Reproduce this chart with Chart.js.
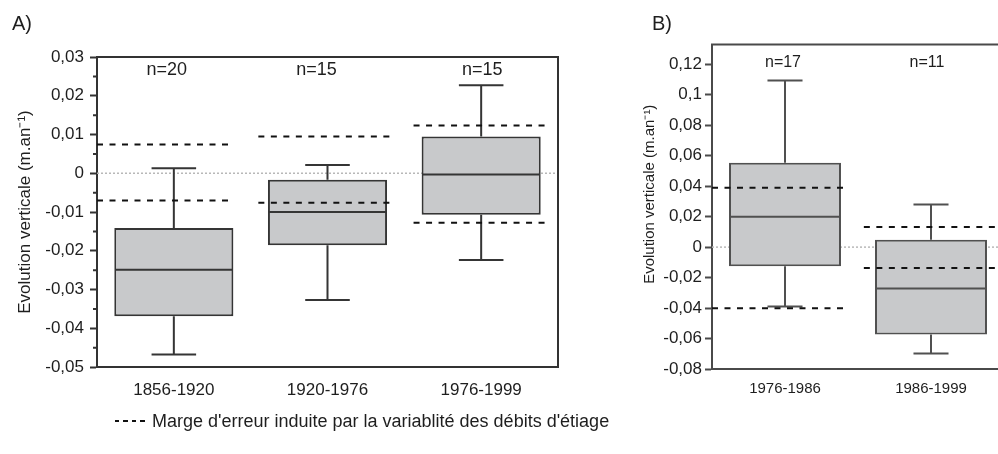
<!DOCTYPE html>
<html>
<head>
<meta charset="utf-8">
<script src="https://cdn.jsdelivr.net/npm/chart.js@4.4.1/dist/chart.umd.min.js"></script>
<style>
  html, body { margin: 0; padding: 0; background: #fff; overflow: hidden; }
  #wrap { position: relative; width: 998px; height: 454px; overflow: hidden;
          font-family: "Liberation Sans", Arial, sans-serif; color: #1e1e1e; }
  #boxA { position: absolute; left: 0; top: 0; width: 580px; height: 454px; }
  #boxB { position: absolute; left: 620px; top: 0; width: 390px; height: 454px; }
  .panel { position: absolute; top: 12px; font-size: 20px; line-height: 1.117; }
  #legend { position: absolute; left: 115px; top: 411px; font-size: 18px; line-height: 1.117; white-space: pre; }
  #legend .dash { display: inline-block; width: 30px; height: 2px; margin-right: 7px; vertical-align: 5px;
                  background: repeating-linear-gradient(90deg, #111 0 4.5px, transparent 4.5px 8.5px); }
</style>
</head>
<body>
<div id="wrap">
  <div id="boxA"><canvas id="chartA"></canvas></div>
  <div id="boxB"><canvas id="chartB"></canvas></div>
  <div class="panel" style="left:12px">A)</div>
  <div class="panel" style="left:652px">B)</div>
  <div id="legend"><span class="dash"></span>Marge d'erreur induite par la variablité des débits d'étiage</div>
</div>
<script>
// panel A
var catsA = ['1856-1920', '1920-1976', '1976-1999'];
var nA = [20, 15, 15];
var loA = [-0.0468, -0.0327, -0.0224];
var q1A = [-0.0369, -0.0186, -0.0107];
var medA = [-0.0249, -0.0100, -0.0003];
var q3A = [-0.0141, -0.0017, 0.0095];
var hiA = [0.0013, 0.0021, 0.0227];
var errLoA = [-0.0070, -0.0076, -0.0128];
var errHiA = [0.0074, 0.0095, 0.0123];
var ticksA = [-0.05, -0.04, -0.03, -0.02, -0.01, 0, 0.01, 0.02, 0.03];

// panel B
var catsB = ['1976-1986', '1986-1999'];
var nB = [17, 11];
var loB = [-0.0389, -0.0699];
var q1B = [-0.0126, -0.0573];
var medB = [0.0200, -0.0271];
var q3B = [0.0553, 0.0049];
var hiB = [0.1093, 0.0279];
var errLoB = [-0.0402, -0.0137];
var errHiB = [0.0389, 0.0132];
var ticksB = [-0.08, -0.06, -0.04, -0.02, 0, 0.02, 0.04, 0.06, 0.08, 0.1, 0.12];

Chart.defaults.font.family = '"Liberation Sans", Arial, sans-serif';
Chart.defaults.color = '#1e1e1e';

function fmt(v) {
    return (Math.round(v * 1000) / 1000).toString().replace('.', ',');
}

// whiskers, medians, error margins, n labels
function boxPlugin(d) {
    return {
        id: 'boxes',
        beforeDatasetsDraw: function (chart) {
            var ctx = chart.ctx, a = chart.chartArea;
            var y0 = chart.scales.y.getPixelForValue(0);
            ctx.save();
            ctx.strokeStyle = '#b8b8b8';
            ctx.lineWidth = 1.5;
            ctx.setLineDash([2, 2]);
            ctx.beginPath();
            ctx.moveTo(a.left, y0);
            ctx.lineTo(a.right, y0);
            ctx.stroke();
            ctx.restore();
        },
        afterDatasetsDraw: function (chart) {
            var ctx = chart.ctx, a = chart.chartArea;
            var xs = chart.scales.x, ys = chart.scales.y;
            var step = xs.getPixelForValue(1) - xs.getPixelForValue(0);
            var bars = chart.getDatasetMeta(0).data;
            ctx.save();
            ctx.beginPath();
            ctx.rect(a.left, a.top, a.right - a.left, a.bottom - a.top);
            ctx.clip();
            d.med.forEach(function (m, i) {
                var cx = xs.getPixelForValue(i);
                var half = bars[i].width / 2 - 1;
                var cap = d.cap * step / 2;
                var yHi = ys.getPixelForValue(d.hi[i]), yLo = ys.getPixelForValue(d.lo[i]);
                ctx.strokeStyle = d.color;
                ctx.lineWidth = d.width;
                ctx.setLineDash([]);
                ctx.beginPath();
                ctx.moveTo(cx, ys.getPixelForValue(d.q3[i]));
                ctx.lineTo(cx, yHi);
                ctx.moveTo(cx, ys.getPixelForValue(d.q1[i]));
                ctx.lineTo(cx, yLo);
                ctx.moveTo(cx - cap, yHi);
                ctx.lineTo(cx + cap, yHi);
                ctx.moveTo(cx - cap, yLo);
                ctx.lineTo(cx + cap, yLo);
                ctx.moveTo(cx - half, ys.getPixelForValue(m));
                ctx.lineTo(cx + half, ys.getPixelForValue(m));
                ctx.stroke();

                var x1 = cx + d.span[i][0] * step, x2 = cx + d.span[i][1] * step;
                ctx.strokeStyle = '#111';
                ctx.lineWidth = 2;
                ctx.setLineDash([6, 6.5]);
                ctx.beginPath();
                [d.errHi[i], d.errLo[i]].forEach(function (v) {
                    var yy = ys.getPixelForValue(v);
                    ctx.moveTo(x1, yy);
                    ctx.lineTo(x2, yy);
                });
                ctx.stroke();
            });
            ctx.restore();

            ctx.save();
            ctx.fillStyle = '#1e1e1e';
            ctx.font = d.nFont + 'px "Liberation Sans", Arial, sans-serif';
            ctx.textAlign = 'center';
            ctx.textBaseline = 'middle';
            d.n.forEach(function (n, i) {
                ctx.fillText('n=' + n, xs.getPixelForValue(i) + d.nShift[i], a.top + d.nOffset);
            });
            ctx.restore();
        },
        afterDraw: function (chart) {
            var ctx = chart.ctx, a = chart.chartArea, ys = chart.scales.y;
            ctx.save();
            ctx.strokeStyle = d.axis;
            ctx.lineWidth = 2;
            ctx.beginPath();
            ctx.moveTo(a.left - 1, a.top);
            ctx.lineTo(a.right, a.top);
            ctx.lineTo(a.right, a.bottom + 1);
            if (d.minor) {
                for (var k = 0; k < d.ticks.length - 1; k++) {
                    var yy = ys.getPixelForValue((d.ticks[k] + d.ticks[k + 1]) / 2);
                    ctx.moveTo(a.left - 4, yy);
                    ctx.lineTo(a.left, yy);
                }
            }
            ctx.stroke();
            ctx.restore();
        }
    };
}

function makeChart(id, c) {
    return new Chart(document.getElementById(id), {
        type: 'bar',
        data: {
            labels: c.cats,
            datasets: [{
                data: c.q1.map(function (v, i) { return [v, c.q3[i]]; }),
                backgroundColor: '#c8c9cb',
                borderColor: c.color,
                borderWidth: 2,
                borderSkipped: false,
                barPercentage: c.barPct,
                categoryPercentage: 1
            }]
        },
        options: {
            responsive: true,
            maintainAspectRatio: false,
            animation: false,
            layout: { padding: { left: 0, top: c.top, right: c.right, bottom: 0 } },
            plugins: { legend: { display: false }, tooltip: { enabled: false } },
            scales: {
                x: {
                    afterFit: function (s) { s.height = c.xH; },
                    grid: { display: false, drawTicks: false },
                    border: { color: c.axis, width: 2 },
                    ticks: { font: { size: c.xFont }, padding: c.xPad, color: '#1e1e1e' }
                },
                y: {
                    min: c.min,
                    max: c.max,
                    afterBuildTicks: function (s) {
                        s.ticks = c.ticks.map(function (v) { return { value: v }; });
                    },
                    afterFit: function (s) { s.width = c.yW; },
                    grid: { drawOnChartArea: false, tickLength: 7, tickColor: c.axis, tickWidth: 2 },
                    border: { color: c.axis, width: 2 },
                    ticks: { font: { size: c.yFont }, padding: c.yPad, color: '#1e1e1e', callback: fmt },
                    title: {
                        display: true,
                        text: c.title,
                        font: { size: c.tFont },
                        color: '#1e1e1e',
                        padding: { top: c.tPad, bottom: 0 }
                    }
                }
            }
        },
        plugins: [boxPlugin({
            lo: c.lo, q1: c.q1, med: c.med, q3: c.q3, hi: c.hi,
            errLo: c.errLo, errHi: c.errHi, n: c.n, ticks: c.ticks,
            color: c.color, axis: c.axis, width: 2, cap: c.cap, span: c.span,
            nFont: c.nFont, nOffset: c.nOffset, nShift: c.nShift, minor: c.minor
        })]
    });
}

makeChart('chartA', {
    cats: catsA, n: nA, lo: loA, q1: q1A, med: medA, q3: q3A, hi: hiA,
    errLo: errLoA, errHi: errHiA, ticks: ticksA, min: -0.05, max: 0.03,
    title: 'Evolution verticale (m.an\u207B\u00B9)',
    color: '#353535', axis: '#333', barPct: 0.775, cap: 0.29,
    span: [[-0.5, 0.39], [-0.45, 0.43], [-0.44, 0.44]],
    top: 57, right: 22, xH: 87, yW: 97,
    xFont: 17, xPad: 13, yFont: 17, yPad: 6, tFont: 17, tPad: 15,
    nFont: 18, nOffset: 13, nShift: [-7, -11, 1], minor: true
});

makeChart('chartB', {
    cats: catsB, n: nB, lo: loB, q1: q1B, med: medB, q3: q3B, hi: hiB,
    errLo: errLoB, errHi: errHiB, ticks: ticksB, min: -0.08, max: 0.133,
    title: '      Evolution verticale (m.an\u207B\u00B9)',
    color: '#505050', axis: '#4a4a4a', barPct: 0.767, cap: 0.24,
    span: [[-0.5, 0.42], [-0.46, 0.5]],
    top: 44.5, right: 6, xH: 85, yW: 92,
    xFont: 15, xPad: 11, yFont: 17, yPad: 3, tFont: 15, tPad: 21,
    nFont: 16, nOffset: 18.5, nShift: [-2, -4], minor: false
});
</script>
</body>
</html>
